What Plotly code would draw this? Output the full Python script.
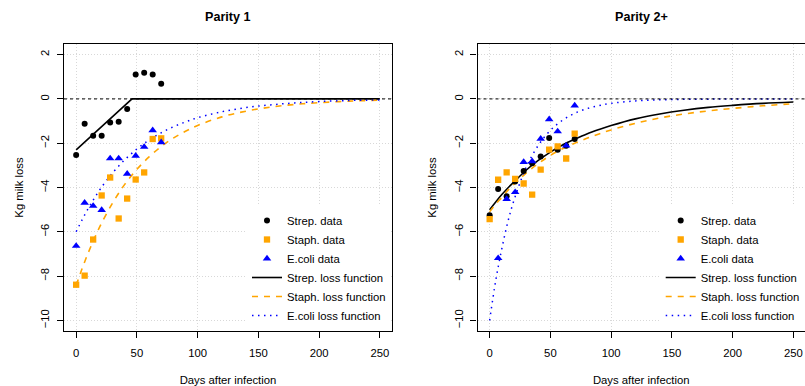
import plotly.graph_objects as go

# ---------------- data ----------------
days = [0, 7, 14, 21, 28, 35, 42, 49, 56, 63, 70]

p1_strep = [-2.53, -1.12, -1.66, -1.66, -1.07, -1.03, -0.45, 1.10, 1.18, 1.10, 0.69]
p1_staph = [-8.39, -7.98, -6.35, -4.36, -3.55, -5.40, -4.50, -3.64, -3.32, -1.81, -1.78]
p1_ecoli = [-6.64, -4.69, -4.83, -5.02, -2.69, -2.69, -3.38, -2.57, -2.17, -1.42, -1.96]

p2_strep = [-5.25, -4.07, -4.39, -3.73, -3.26, -2.90, -2.60, -1.76, -2.29, -2.11, -1.81]
p2_staph = [-5.43, -3.65, -3.32, -3.61, -3.82, -4.32, -3.19, -2.29, -2.14, -2.69, -1.57]
p2_ecoli_days = [7, 14, 21, 28, 35, 42, 49, 56, 63, 70]
p2_ecoli = [-7.19, -4.52, -4.21, -2.85, -2.82, -1.80, -0.92, -1.47, -2.11, -0.30]

# loss functions
p1_strep_fn_days = [0, 46, 250]
p1_strep_fn = [-2.30, 0.0, 0.0]

fn_days = [0, 5, 10, 15, 20, 30, 40, 50, 60, 70, 80, 90, 100, 120, 140, 160, 180, 200, 225, 250]
p1_staph_fn = [-8.43, -7.65, -6.94, -6.30, -5.71, -4.70, -3.86, -3.18, -2.62, -2.15, -1.77, -1.46,
               -1.20, -0.81, -0.55, -0.37, -0.25, -0.17, -0.10, -0.06]
p1_ecoli_fn = [-6.00, -5.45, -4.94, -4.48, -4.06, -3.34, -2.75, -2.26, -1.86, -1.53, -1.26, -1.04,
               -0.85, -0.58, -0.39, -0.27, -0.18, -0.12, -0.07, -0.05]
p2_strep_fn = [-5.00, -4.65, -4.32, -4.02, -3.75, -3.22, -2.78, -2.40, -2.08, -1.82, -1.58, -1.38,
               -1.20, -0.90, -0.68, -0.51, -0.38, -0.29, -0.20, -0.14]
p2_staph_fn = [-5.10, -4.75, -4.45, -4.13, -3.85, -3.35, -2.92, -2.55, -2.25, -2.00, -1.78, -1.58,
               -1.40, -1.10, -0.86, -0.68, -0.54, -0.43, -0.31, -0.22]
p2_ecoli_fn = [-10.00, -8.20, -6.77, -5.55, -4.58, -3.10, -2.10, -1.42, -0.96, -0.65, -0.44, -0.30,
               -0.20, -0.09, -0.04, -0.02, -0.01, 0.0, 0.0, 0.0]

baseline = 0
x_ticks = [0, 50, 100, 150, 200, 250]
y_ticks = [-10, -8, -6, -4, -2, 0, 2]
titles = ["Parity 1", "Parity 2+"]
legend_names = ["Strep. data", "Staph. data", "E.coli data",
                "Strep. loss function", "Staph. loss function", "E.coli loss function"]

# ---------------- styling ----------------
W, H = 805, 386
FONT = "Liberation Sans, Arial, Helvetica, sans-serif"
FS = 11.3
C_STREP, C_STAPH, C_ECOLI = "#000000", "#FFA500", "#0000FF"

fig = go.Figure()

panels = [
    dict(xa="x", ya="y", leg="legend",
         strep=(days, p1_strep), staph=(days, p1_staph), ecoli=(days, p1_ecoli),
         fstrep=(p1_strep_fn_days, p1_strep_fn, "linear"),
         fstaph=(fn_days, p1_staph_fn), fecoli=(fn_days, p1_ecoli_fn)),
    dict(xa="x2", ya="y2", leg="legend2",
         strep=(days, p2_strep), staph=(days, p2_staph), ecoli=(p2_ecoli_days, p2_ecoli),
         fstrep=(fn_days, p2_strep_fn, "spline"),
         fstaph=(fn_days, p2_staph_fn), fecoli=(fn_days, p2_ecoli_fn)),
]

for p in panels:
    common = dict(xaxis=p["xa"], yaxis=p["ya"], legend=p["leg"], cliponaxis=True)
    fig.add_trace(go.Scatter(x=p["fstrep"][0], y=p["fstrep"][1], mode="lines",
                             name=legend_names[3], legendrank=4,
                             line=dict(color=C_STREP, width=1.6, shape=p["fstrep"][2]), **common))
    fig.add_trace(go.Scatter(x=p["fstaph"][0], y=p["fstaph"][1], mode="lines",
                             name=legend_names[4], legendrank=5,
                             line=dict(color=C_STAPH, width=1.6, dash="6px,6px", shape="spline"), **common))
    fig.add_trace(go.Scatter(x=p["fecoli"][0], y=p["fecoli"][1], mode="lines",
                             name=legend_names[5], legendrank=6,
                             line=dict(color=C_ECOLI, width=1.5, dash="1.5px,4.5px", shape="spline"), **common))
    fig.add_trace(go.Scatter(x=p["strep"][0], y=p["strep"][1], mode="markers",
                             name=legend_names[0], legendrank=1,
                             marker=dict(symbol="circle", size=6, color=C_STREP), **common))
    fig.add_trace(go.Scatter(x=p["staph"][0], y=p["staph"][1], mode="markers",
                             name=legend_names[1], legendrank=2,
                             marker=dict(symbol="square", size=6.3, color=C_STAPH), **common))
    fig.add_trace(go.Scatter(x=p["ecoli"][0], y=p["ecoli"][1], mode="markers",
                             name=legend_names[2], legendrank=3,
                             marker=dict(symbol="triangle-up", size=7.5, color=C_ECOLI), **common))

# baselines
for xa, ya in [("x", "y"), ("x2", "y2")]:
    fig.add_shape(type="line", xref=f"{xa} domain", yref=ya, x0=0, x1=1, y0=baseline, y1=baseline,
                  line=dict(color="black", width=1, dash="3px,3px"), layer="above")

y_dom = [1 - 331 / H, 1 - 44 / H]
x_doms = [[64 / W, 392 / W], [477.5 / W, 1.0]]
frame_right = [392, 805.8]

axis_common = dict(showline=True, linecolor="black", linewidth=1.2, mirror=True,
                   ticks="outside", ticklen=6, tickcolor="black", tickwidth=1,
                   showgrid=True, gridcolor="#D8D8D8", griddash="1px,2px", gridwidth=1,
                   zeroline=False, tickfont=dict(family=FONT, size=FS, color="black"))

fig.update_layout(
    width=W, height=H, margin=dict(l=0, r=0, t=0, b=0),
    paper_bgcolor="white", plot_bgcolor="white",
    font=dict(family=FONT, size=FS, color="black"),
    showlegend=True,
    xaxis=dict(domain=x_doms[0], anchor="y", range=[-10, 260], tickvals=x_ticks,
               ticklabelstandoff=5,
               title=dict(text="Days after infection", standoff=18, font=dict(size=FS)), **axis_common),
    yaxis=dict(domain=y_dom, anchor="x", range=[-10.48, 2.48], tickvals=y_ticks, tickangle=-90,
               ticklabelstandoff=3,
               title=dict(text="Kg milk loss", standoff=13, font=dict(size=FS)), **axis_common),
    xaxis2=dict(domain=x_doms[1], anchor="y2", range=[-10, 259.6], tickvals=x_ticks,
                ticklabelstandoff=5,
                title=dict(text="Days after infection", standoff=18, font=dict(size=FS)), **axis_common),
    yaxis2=dict(domain=y_dom, anchor="x2", range=[-10.48, 2.48], tickvals=y_ticks, tickangle=-90,
                ticklabelstandoff=3,
                title=dict(text="Kg milk loss", standoff=13, font=dict(size=FS)), **axis_common),
    legend=dict(x=247 / W, xanchor="left", y=1 - 330 / H, yanchor="bottom",
                bgcolor="white", borderwidth=0, font=dict(size=FS), itemclick=False,
                tracegroupgap=0),
    legend2=dict(x=660.7 / W, xanchor="left", y=1 - 330 / H, yanchor="bottom",
                 bgcolor="white", borderwidth=0, font=dict(size=FS), itemclick=False,
                 tracegroupgap=0),
)

for i, t in enumerate(titles):
    fig.add_annotation(text=f"<b>{t}</b>", xref="paper", yref="paper",
                       x=(x_doms[i][0] * W + frame_right[i]) / 2 / W, y=1 - 17 / H,
                       xanchor="center", yanchor="middle", showarrow=False,
                       font=dict(family=FONT, size=12.6, color="black"))

fig.write_html("out.html")
